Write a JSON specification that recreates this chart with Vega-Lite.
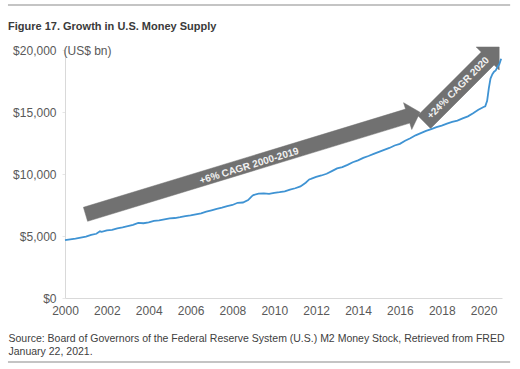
{
  "$schema": "https://vega.github.io/schema/vega-lite/v6.json",
  "width": 437,
  "height": 248,
  "autosize": "none",
  "padding": {"left": 65, "top": 50, "right": 18, "bottom": 71},
  "background": "white",
  "config": {"view": {"stroke": null}, "font": "Liberation Sans"},
  "title": {
    "text": "Figure 17. Growth in U.S. Money Supply",
    "anchor": "start",
    "frame": "group",
    "dx": -57,
    "offset": 0,
    "dy": 40,
    "baseline": "alphabetic",
    "fontSize": 11,
    "fontWeight": "bold",
    "color": "#3a3a3a",
    "font": "Liberation Sans"
  },
  "datasets": {
    "m2": [
      {"year": 2000.0, "value": 4660}, {"year": 2000.25, "value": 4730}, {"year": 2000.5, "value": 4790}, {"year": 2000.75, "value": 4870},
      {"year": 2001.0, "value": 4950}, {"year": 2001.25, "value": 5090}, {"year": 2001.5, "value": 5180}, {"year": 2001.67, "value": 5380}, {"year": 2001.75, "value": 5330},
      {"year": 2002.0, "value": 5460}, {"year": 2002.25, "value": 5490}, {"year": 2002.5, "value": 5610}, {"year": 2002.75, "value": 5700},
      {"year": 2003.0, "value": 5800}, {"year": 2003.25, "value": 5900}, {"year": 2003.5, "value": 6060}, {"year": 2003.75, "value": 6030},
      {"year": 2004.0, "value": 6100}, {"year": 2004.25, "value": 6220}, {"year": 2004.5, "value": 6260}, {"year": 2004.75, "value": 6340},
      {"year": 2005.0, "value": 6420}, {"year": 2005.25, "value": 6450}, {"year": 2005.5, "value": 6520}, {"year": 2005.75, "value": 6610},
      {"year": 2006.0, "value": 6660}, {"year": 2006.25, "value": 6750}, {"year": 2006.5, "value": 6830}, {"year": 2006.75, "value": 6960},
      {"year": 2007.0, "value": 7070}, {"year": 2007.25, "value": 7190}, {"year": 2007.5, "value": 7280}, {"year": 2007.75, "value": 7400},
      {"year": 2008.0, "value": 7500}, {"year": 2008.25, "value": 7680}, {"year": 2008.5, "value": 7700}, {"year": 2008.75, "value": 7900},
      {"year": 2008.92, "value": 8200}, {"year": 2009.0, "value": 8300}, {"year": 2009.25, "value": 8420}, {"year": 2009.5, "value": 8440}, {"year": 2009.75, "value": 8400},
      {"year": 2010.0, "value": 8470}, {"year": 2010.25, "value": 8530}, {"year": 2010.5, "value": 8600}, {"year": 2010.75, "value": 8740},
      {"year": 2011.0, "value": 8850}, {"year": 2011.25, "value": 9000}, {"year": 2011.5, "value": 9300}, {"year": 2011.67, "value": 9560}, {"year": 2011.75, "value": 9600},
      {"year": 2012.0, "value": 9760}, {"year": 2012.25, "value": 9880}, {"year": 2012.5, "value": 10020}, {"year": 2012.75, "value": 10230},
      {"year": 2013.0, "value": 10450}, {"year": 2013.25, "value": 10550}, {"year": 2013.5, "value": 10740}, {"year": 2013.75, "value": 10950},
      {"year": 2014.0, "value": 11100}, {"year": 2014.25, "value": 11300}, {"year": 2014.5, "value": 11450}, {"year": 2014.75, "value": 11620},
      {"year": 2015.0, "value": 11780}, {"year": 2015.25, "value": 11950}, {"year": 2015.5, "value": 12100}, {"year": 2015.75, "value": 12300},
      {"year": 2016.0, "value": 12430}, {"year": 2016.25, "value": 12680}, {"year": 2016.5, "value": 12880}, {"year": 2016.75, "value": 13120},
      {"year": 2017.0, "value": 13300}, {"year": 2017.25, "value": 13480}, {"year": 2017.5, "value": 13620}, {"year": 2017.75, "value": 13780},
      {"year": 2018.0, "value": 13900}, {"year": 2018.25, "value": 14060}, {"year": 2018.5, "value": 14200}, {"year": 2018.75, "value": 14300},
      {"year": 2019.0, "value": 14480}, {"year": 2019.25, "value": 14650}, {"year": 2019.5, "value": 14900}, {"year": 2019.75, "value": 15180},
      {"year": 2020.0, "value": 15400}, {"year": 2020.08, "value": 15460}, {"year": 2020.17, "value": 15900}, {"year": 2020.25, "value": 16900},
      {"year": 2020.33, "value": 17700}, {"year": 2020.42, "value": 18050}, {"year": 2020.5, "value": 18250}, {"year": 2020.58, "value": 18350},
      {"year": 2020.67, "value": 18650}, {"year": 2020.75, "value": 18850}, {"year": 2020.8, "value": 19100}, {"year": 2020.84, "value": 19300}
    ],
    "arrows": [
      {"arrow": "a", "i": 0, "year": 2001.080, "value": 6185},
      {"arrow": "a", "i": 1, "year": 2016.472, "value": 14105},
      {"arrow": "a", "i": 2, "year": 2016.568, "value": 13589},
      {"arrow": "a", "i": 3, "year": 2016.965, "value": 14976},
      {"arrow": "a", "i": 4, "year": 2016.176, "value": 15750},
      {"arrow": "a", "i": 5, "year": 2016.272, "value": 15234},
      {"arrow": "a", "i": 6, "year": 2000.880, "value": 7315},
      {"arrow": "a", "i": 7, "year": 2001.080, "value": 6185},
      {"arrow": "b", "i": 0, "year": 2017.467, "value": 13677},
      {"arrow": "b", "i": 1, "year": 2020.502, "value": 18798},
      {"arrow": "b", "i": 2, "year": 2020.746, "value": 18387},
      {"arrow": "b", "i": 3, "year": 2020.746, "value": 20242},
      {"arrow": "b", "i": 4, "year": 2019.646, "value": 20242},
      {"arrow": "b", "i": 5, "year": 2019.890, "value": 19831},
      {"arrow": "b", "i": 6, "year": 2016.855, "value": 14710},
      {"arrow": "b", "i": 7, "year": 2017.467, "value": 13677}
    ],
    "decor": [
      {"id": "top", "year": 1997.275, "value": 23629},
      {"id": "top", "year": 2021.27, "value": 23629},
      {"id": "bottom", "year": 1997.275, "value": -5161},
      {"id": "bottom", "year": 2021.27, "value": -5161}
    ]
  },
  "encoding": {
    "x": {
      "field": "year",
      "type": "quantitative",
      "scale": {"domain": [2000, 2020.88], "nice": false, "zero": false},
      "axis": {
        "values": [2000, 2002, 2004, 2006, 2008, 2010, 2012, 2014, 2016, 2018, 2020],
        "format": "d",
        "labelFontSize": 12,
        "labelColor": "#595959",
        "labelFlush": false,
        "labelOverlap": false,
        "ticks": false,
        "labelPadding": 7,
        "domainColor": "#d9d9d9",
        "grid": false,
        "title": ["Source: Board of Governors of the Federal Reserve System (U.S.) M2 Money Stock, Retrieved from FRED", "January 22, 2021."],
        "titleX": -57,
        "titleY": 43,
        "titleAnchor": "start",
        "titleAlign": "left",
        "titleBaseline": "alphabetic",
        "titleFontSize": 10.5,
        "titleFontWeight": "normal",
        "titleColor": "#404040",
        "titleLineHeight": 13
      }
    },
    "y": {
      "field": "value",
      "type": "quantitative",
      "scale": {"domain": [0, 20000], "nice": false},
      "axis": {
        "values": [0, 5000, 10000, 15000, 20000],
        "format": "$,.0f",
        "labelFontSize": 12,
        "labelColor": "#595959",
        "tickSize": 3,
        "tickColor": "#e6e6e6",
        "labelPadding": 6,
        "domainColor": "#d9d9d9",
        "grid": false,
        "title": "(US$ bn)",
        "titleAngle": 0,
        "titleX": -2,
        "titleY": 4,
        "titleAlign": "left",
        "titleBaseline": "alphabetic",
        "titleFontSize": 12,
        "titleFontWeight": "normal",
        "titleColor": "#595959"
      }
    }
  },
  "layer": [
    {
      "data": {"name": "decor"},
      "mark": {"type": "line", "stroke": "#c4c4c4", "strokeWidth": 2, "clip": false},
      "encoding": {
        "detail": {"field": "id"}
      }
    },
    {
      "data": {"name": "arrows"},
      "mark": {"type": "line", "fill": "#717171", "stroke": "#717171", "strokeWidth": 0.5, "interpolate": "linear"},
      "encoding": {
        "detail": {"field": "arrow"},
        "order": {"field": "i", "type": "quantitative"}
      }
    },
    {
      "data": {"name": "m2"},
      "mark": {"type": "line", "color": "#3f93d3", "strokeWidth": 1.8},
      "encoding": {}
    },
    {
      "data": {"values": [{"label": "+6% CAGR 2000-2019", "year": 2008.8, "value": 10650}]},
      "mark": {"type": "text", "angle": 343, "font": "Liberation Sans", "fontSize": 10, "fontWeight": "bold", "color": "#f2f2f2", "align": "center", "baseline": "middle"},
      "encoding": {"text": {"field": "label"}}
    },
    {
      "data": {"values": [{"label": "+24% CAGR 2020", "year": 2018.786, "value": 16935}]},
      "mark": {"type": "text", "angle": 315, "font": "Liberation Sans", "fontSize": 10, "fontWeight": "bold", "color": "#f2f2f2", "align": "center", "baseline": "middle"},
      "encoding": {"text": {"field": "label"}}
    }
  ]
}
